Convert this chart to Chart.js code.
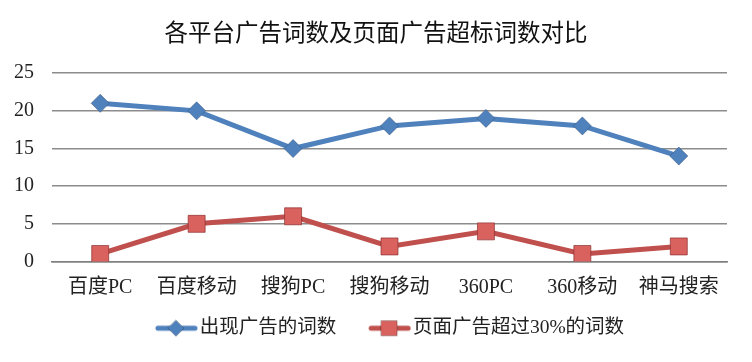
<!DOCTYPE html>
<html>
<head>
<meta charset="utf-8">
<script src="https://cdn.jsdelivr.net/npm/chart.js@4"></script>
<style>
  html, body { margin: 0; padding: 0; background: #fff; }
  #wrap { width: 752px; height: 362px; }
</style>
</head>
<body>
<div id="wrap"><canvas id="chart" width="752" height="362"></canvas></div>
<script>
// 数据
const categories = ['百度PC', '百度移动', '搜狗PC', '搜狗移动', '360PC', '360移动', '神马搜索'];
const adWords = [21, 20, 15, 18, 19, 18, 14];
const overLimitWords = [1, 5, 6, 2, 4, 1, 2];
const seriesNames = ['出现广告的词数', '页面广告超过30%的词数'];
const yTicks = [0, 5, 10, 15, 20, 25];

const blue = '#4f81bd';
const red = '#c0504d';

// 图例里的小图标：一段线加一个标记（画在画布右侧，左边留空）
function legendIcon(color, shape) {
    const c = document.createElement('canvas');
    c.width = 78;
    c.height = 18;
    const g = c.getContext('2d');
    const x0 = c.width - 43;
    const mid = x0 + 21;
    g.strokeStyle = color;
    g.lineWidth = 5;
    g.lineCap = 'round';
    g.beginPath();
    g.moveTo(x0 + 3, 9);
    g.lineTo(c.width - 3, 9);
    g.stroke();
    g.fillStyle = shape === 'diamond' ? color : '#d9615e';
    g.beginPath();
    if (shape === 'diamond') {
        g.moveTo(mid, 1); g.lineTo(mid + 8, 9); g.lineTo(mid, 17); g.lineTo(mid - 8, 9);
    } else {
        g.rect(mid - 8, 1.5, 16, 15);
    }
    g.closePath();
    g.fill();
    g.strokeStyle = 'rgba(0,0,0,0.25)';
    g.lineWidth = 1;
    g.stroke();
    return c;
}
const icons = [legendIcon(blue, 'diamond'), legendIcon(red, 'square')];

const ctx = document.getElementById('chart').getContext('2d');
const chart = new Chart(ctx, {
    type: 'line',
    data: {
        labels: categories,
        datasets: [
            {
                label: seriesNames[0],
                data: adWords,
                borderColor: blue,
                backgroundColor: blue,
                borderWidth: 5,
                pointStyle: 'rectRot',
                pointRadius: 9,
                pointBorderColor: 'rgba(60,90,130,0.6)',
                pointBorderWidth: 1
            },
            {
                label: seriesNames[1],
                data: overLimitWords,
                borderColor: red,
                backgroundColor: '#d9615e',
                borderWidth: 5,
                pointStyle: 'rect',
                pointRadius: 12,
                pointBorderColor: 'rgba(140,50,50,0.7)',
                pointBorderWidth: 1
            }
        ]
    },
    options: {
        responsive: false,
        animation: false,
        layout: { padding: { left: 0, right: 0, top: 0, bottom: 14 } },
        plugins: {
            title: {
                display: true,
                text: '各平台广告词数及页面广告超标词数对比',
                color: '#111',
                font: { family: '"Noto Sans CJK SC", sans-serif', size: 23.5, weight: 'normal' },
                padding: { top: 18, bottom: 27 }
            },
            legend: {
                position: 'bottom',
                labels: {
                    color: '#222',
                    font: { family: '"Liberation Serif", "Noto Sans CJK SC", serif', size: 19.5 },
                    usePointStyle: true,
                    pointStyleWidth: 62,
                    padding: 5,
                    generateLabels: (c) => c.data.datasets.map((ds, i) => ({
                        text: ds.label,
                        pointStyle: icons[i],
                        datasetIndex: i,
                        hidden: false,
                        lineWidth: 0,
                        fontColor: '#222'
                    }))
                }
            },
            tooltip: { enabled: false }
        },
        scales: {
            x: {
                offset: true,
                grid: { display: false, drawTicks: false },
                border: { display: true, color: '#7f7f7f', width: 1.5 },
                ticks: {
                    color: '#222',
                    padding: 14,
                    font: { family: '"Liberation Serif", "Noto Sans CJK SC", serif', size: 20 }
                }
            },
            y: {
                min: 0,
                max: 25,
                afterBuildTicks: (scale) => { scale.ticks = yTicks.map(v => ({ value: v })); },
                afterFit: (scale) => { scale.width = 52; },
                grid: { color: '#8c8c8c', lineWidth: 1.5, drawTicks: false },
                border: { display: false },
                ticks: {
                    color: '#222',
                    padding: 18,
                    font: { family: '"Liberation Serif", serif', size: 20 }
                }
            },
            // 右侧留白
            yRight: {
                position: 'right',
                afterFit: (scale) => { scale.width = 25; },
                grid: { display: false, drawTicks: false },
                border: { display: false },
                ticks: { display: false }
            }
        }
    }
});
</script>
</body>
</html>
